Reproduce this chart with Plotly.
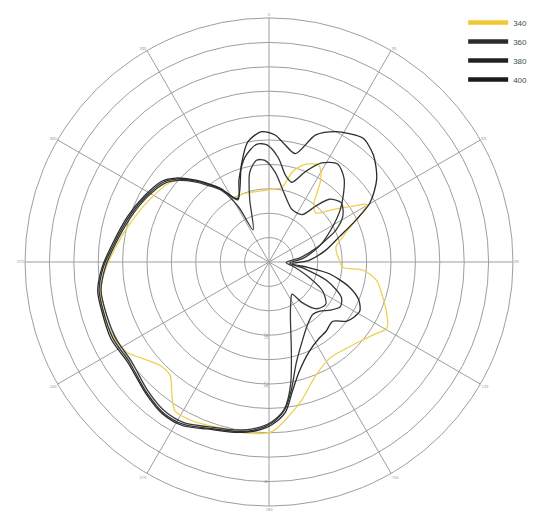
import plotly.graph_objects as go

# ---- data (theta in degrees clockwise from top, r in ring units 0..10) ----
theta_340 = [331.8, 337.7, 345, 354, 3, 9.8, 14.4, 19, 24, 27.4, 32, 35, 37.2, 43.6, 50.5, 56.4, 59.4,
             61.5, 64.1, 71, 77.2, 83, 88.6, 94, 95, 99.8, 105.9, 114, 119.3, 124.9, 131, 138.2, 148,
             157.6, 166.4, 172.7, 179, 187, 196.2, 205.3, 212.2, 216.7, 221, 226.6, 232.5, 237.9, 245,
             252.3, 259.2, 265.9, 275.7, 287.3, 297.7, 308.8, 317, 325.4, 331.8]
r_340 = [3.0, 3.0, 2.95, 2.93, 3.0, 3.1, 3.8, 4.19, 4.4, 4.46, 4.01, 3.4, 3.05, 2.78, 3.38, 4.14, 4.64,
         4.4, 3.98, 3.2, 2.82, 2.8, 2.89, 3.03, 3.88, 4.48, 4.81, 5.29, 5.54, 5.22, 4.95, 4.75, 4.67,
         5.03, 5.79, 6.37, 6.95, 7.07, 7.09, 7.22, 7.22, 6.67, 6.17, 6.16, 6.51, 6.92, 7.08,
         7.1, 7.03, 6.78, 6.31, 5.85, 5.52, 5.2, 4.6, 3.71, 3.0]

theta_360 = [331, 333.7, 342.9, 347.9, 353, 357.7, 3.9, 13.8, 23.7, 35, 39.9, 43.9, 50.6, 58.2, 64.4,
             68.8, 73.8, 82, 92, 100, 110.9, 118.3, 126.6, 134.6, 140.8, 144.4, 152, 159, 166, 170, 174,
             179, 184.8, 191.5, 200.4, 207.7, 215, 223.2, 234.4, 244, 254.7, 260.4, 268, 275.6, 288.1,
             298.3, 307, 312, 317.2, 321.6, 326.6, 331]
r_360 = [2.6, 1.47, 2.69, 3.76, 4.2, 4.17, 3.69, 2.79, 2.35, 2.37, 2.99, 3.57, 3.83, 3.56, 3.05,
         2.5, 2.0, 1.3, 0.7, 1.0, 1.75, 2.49, 2.9, 2.73, 2.15, 1.62, 1.9, 2.45, 3.79, 5.1, 6.05,
         6.55, 6.84, 7.02, 7.2, 7.45, 7.46, 7.25, 6.95, 7.02, 7.0, 6.98, 6.72, 6.38, 5.95,
         5.65, 5.36, 5.0, 4.48, 4.0, 3.5, 2.6]

theta_380 = [333.6, 340, 347, 354, 359, 5, 11, 16, 22, 28, 35, 42, 48, 54, 62, 72, 84, 93, 100, 108,
             116, 122, 128, 134, 140, 148, 157, 165, 170, 174, 179, 184.8, 191.5, 200.4, 207.7, 215,
             223.2, 234.4, 244, 254.7, 260.4, 268, 275.6, 288.1, 298.3, 307, 312, 317.2, 321.6, 326.6,
             333.6]
r_380 = [2.85, 3.6, 4.4, 4.85, 4.8, 4.3, 3.6, 3.4, 4.0, 4.6, 4.9, 4.6, 4.1, 3.6, 2.9, 2.2, 1.4, 0.85,
         1.4, 2.5, 3.3, 3.45, 3.2, 2.9, 2.8, 3.0, 3.5, 4.3, 5.3, 6.1, 6.6, 6.9, 7.08, 7.26, 7.52, 7.55,
         7.33, 7.04, 7.12, 7.08, 7.06, 6.8, 6.44, 6.02, 5.71, 5.43, 5.08, 4.54, 4.07, 3.58, 2.85]

theta_400 = [333.6, 344, 350, 356.7, 2.7, 7.9, 13.7, 20.2, 27.2, 32, 37.3, 44.4, 52.4, 59.6, 64.1,
             70.2, 78.2, 87.6, 94, 98, 101, 107.5, 113, 118.4, 123, 127.5, 132.9, 140.7, 146.7, 156,
             164.8, 170, 173.8, 179, 184.8, 191.5, 200.4, 207.7, 215, 223.2, 234.4, 244, 254.7, 260.4,
             268, 275.6, 288.1, 298.3, 307, 312, 317.2, 321.6, 326.6, 333.6]
r_400 = [2.9, 4.12, 5.0, 5.35, 5.21, 4.84, 4.57, 5.55, 6.01, 6.2, 6.37, 6.12, 5.57, 4.8, 3.98,
         3.07, 2.38, 1.64, 0.95, 1.6, 2.52, 3.47, 4.0, 4.23, 4.15, 3.99, 3.57, 3.68, 3.74, 4.03,
         4.68, 5.43, 6.2, 6.67, 6.95, 7.12, 7.3, 7.58, 7.6, 7.38, 7.1, 7.2, 7.14, 7.12,
         6.85, 6.5, 6.08, 5.77, 5.5, 5.14, 4.6, 4.12, 3.62, 2.9]

series_names = ["340", "360", "380", "400"]
series_colors = ["#f2c832", "#2b2b2b", "#222222", "#1a1a1a"]

angle_ticks = [0, 30, 60, 90, 120, 150, 180, 210, 240, 270, 300, 330]
angle_labels = ["0", "30", "60", "90", "120", "150", "180", "210", "240", "270", "300", "330"]
radial_ticks = [1, 2, 3, 4, 5, 6, 7, 8, 9, 10]
radial_labels = ["", "", "-30", "", "-20", "", "", "", "0", ""]

data = [(theta_340, r_340), (theta_360, r_360), (theta_380, r_380), (theta_400, r_400)]
plot_colors = ["#f0d050", "#3a3a3a", "#333333", "#2a2a2a"]

fig = go.Figure()
for (th, rr), name, col in zip(data, series_names, plot_colors):
    fig.add_trace(go.Scatterpolar(r=rr, theta=th, mode="lines", name=name,
                                  line=dict(color=col, width=1.3, shape="spline", smoothing=0.8),
                                  showlegend=False, hoverinfo="skip"))
# legend entries with thick swatches
for name, col in zip(series_names, series_colors):
    fig.add_trace(go.Scatterpolar(r=[None], theta=[None], mode="lines", name=name,
                                  line=dict(color=col, width=4.5), showlegend=True))

grid = "#9e9e9e"
cx, cy_bottom, rad = 261, 257, 244
fig.update_layout(
    width=538, height=511,
    margin=dict(l=0, r=0, t=0, b=0),
    paper_bgcolor="white",
    plot_bgcolor="white",
    showlegend=True,
    legend=dict(x=0.846, y=1.0, xanchor="left", yanchor="top",
                font=dict(size=8, color="#3c5248", family="Liberation Sans"),
                bgcolor="rgba(0,0,0,0)", tracegroupgap=0, itemwidth=40),
    polar=dict(
        domain=dict(x=[(cx - rad) / 538, (cx + rad) / 538],
                    y=[(cy_bottom - rad) / 511, (cy_bottom + rad) / 511]),
        bgcolor="white",
        angularaxis=dict(rotation=90, direction="clockwise",
                         tickmode="array", tickvals=angle_ticks, ticktext=angle_labels,
                         showgrid=True, gridcolor=grid, gridwidth=1,
                         showline=True, linecolor=grid, linewidth=1,
                         ticks="", tickfont=dict(size=4, color="#8a8a8a")),
        radialaxis=dict(range=[0, 10], tickmode="array", tickvals=radial_ticks,
                        ticktext=radial_labels, angle=-90, tickangle=0,
                        showgrid=True, gridcolor=grid, gridwidth=1,
                        showline=False, ticks="",
                        tickfont=dict(size=5, color="#8a8a8a")),
    ),
)

fig.write_html("out.html")
